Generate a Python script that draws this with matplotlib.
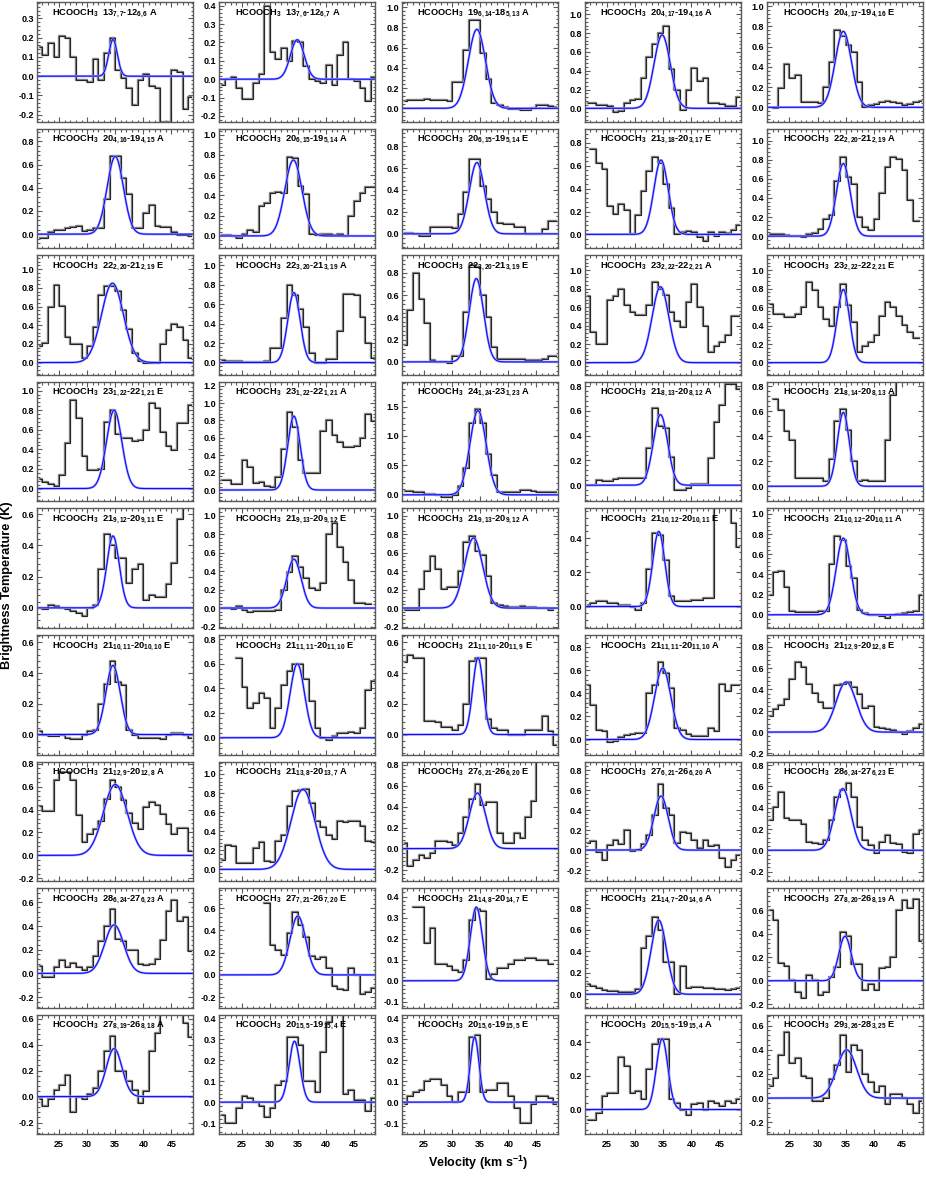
import numpy as np
import matplotlib
matplotlib.use("Agg")
import matplotlib.pyplot as plt
from matplotlib.ticker import MultipleLocator, FormatStrFormatter

nan = np.nan

# channel centre velocities (km/s)
vel = [21.5, 22.5, 23.5, 24.5, 25.5, 26.5, 27.5, 28.5, 29.5, 30.5, 31.5, 32.5, 33.5, 34.5,
       35.5, 36.5, 37.5, 38.5, 39.5, 40.5, 41.5, 42.5, 43.5, 44.5, 45.5, 46.5, 47.5, 48.5]

# observed spectra (K), one list per panel, row by row
spec01 = [0.15,0.11,0.17,0.10,0.21,0.20,0.10,-0.02,-0.02,-0.03,0.09,-0.02,0.12,0.20,0.03,-0.01,-0.06,-0.15,-0.02,0.01,-0.05,-0.06,-0.24,-0.24,0.03,0.02,-0.17,-0.11]
spec02 = [-0.03,0.00,0.01,-0.05,-0.11,-0.11,-0.02,0.03,0.40,0.15,0.11,0.17,0.10,0.21,0.20,0.07,0.00,-0.01,-0.02,0.08,-0.03,0.13,0.20,0.00,-0.01,-0.05,-0.12,0.01]
spec03 = [0.07,0.08,0.08,0.08,0.09,0.08,0.08,0.08,0.07,0.26,0.26,0.58,0.87,0.87,0.55,0.29,0.05,0.03,0.01,-0.01,-0.01,-0.02,-0.02,0.00,0.03,0.03,0.02,0.01]
spec04 = [0.06,0.06,0.04,0.04,0.03,-0.04,-0.03,0.06,0.09,0.10,0.32,0.55,0.68,0.80,0.87,0.42,0.20,-0.02,0.19,0.43,0.29,0.32,0.06,0.06,0.05,0.03,0.03,0.12]
spec05 = [nan,-0.01,0.19,0.43,0.29,0.32,0.05,0.05,0.05,0.04,0.20,0.45,0.76,0.70,0.62,0.55,0.25,0.00,0.02,0.03,0.05,0.06,0.05,0.04,0.02,0.03,0.05,0.06]
spec06 = [-0.03,-0.03,0.02,0.04,0.04,0.05,0.06,0.07,0.03,0.04,0.05,0.05,0.30,0.67,0.67,0.48,0.35,0.05,0.05,0.18,0.25,0.07,0.06,0.06,0.02,-0.01,-0.01,-0.02]
spec07 = [0.01,0.01,0.00,-0.02,0.02,0.06,0.04,0.30,0.33,0.42,0.43,0.42,0.78,0.77,0.49,0.41,0.02,0.01,0.02,0.02,0.01,0.02,0.00,0.20,0.35,0.42,0.48,0.48]
spec08 = [0.01,0.01,0.00,-0.02,-0.02,0.06,0.06,0.06,0.06,0.05,0.18,0.38,0.68,0.68,0.44,0.32,0.20,0.10,0.09,0.09,0.06,0.06,0.00,0.00,0.00,0.04,0.12,0.12]
spec09 = [nan,0.75,0.62,0.57,0.25,0.18,0.27,0.21,0.00,0.17,0.38,0.55,0.68,0.62,0.44,0.23,0.00,0.02,0.03,0.02,-0.02,-0.06,0.02,-0.01,0.02,0.01,0.04,0.08]
spec10 = [0.02,0.02,0.02,0.01,0.00,0.00,-0.01,0.02,0.03,0.08,0.18,0.22,0.58,0.83,0.62,0.55,0.20,0.10,0.06,0.18,0.45,0.72,0.83,0.81,0.69,0.38,0.16,nan]
spec11 = [0.18,0.21,0.59,0.83,0.61,0.27,0.20,0.20,0.05,0.18,0.38,0.72,0.82,0.82,0.77,0.56,0.36,0.10,0.02,-0.01,0.00,0.00,0.20,0.35,0.41,0.38,0.24,0.05]
spec12 = [0.03,0.02,0.02,0.02,0.01,0.01,0.01,0.01,0.02,0.15,0.15,0.46,0.80,0.70,0.55,0.37,0.10,0.00,0.00,0.04,0.04,0.32,0.71,0.71,0.70,0.47,0.20,0.05]
spec13 = [0.15,0.47,0.80,0.57,0.35,0.02,0.00,0.00,-0.01,0.05,0.05,0.45,0.87,0.85,0.60,0.40,0.13,0.03,0.03,0.03,0.03,0.03,0.02,0.02,0.02,0.03,0.05,0.05]
spec14 = [0.72,0.33,0.20,0.20,0.68,0.72,0.80,0.62,0.55,0.51,0.51,0.62,0.87,0.80,0.73,0.55,0.45,0.38,0.65,0.85,0.60,0.40,0.12,0.18,0.22,0.30,0.50,0.50]
spec15 = [0.63,0.53,0.53,0.49,0.49,0.52,0.60,0.87,0.78,0.60,0.47,0.40,0.60,0.85,0.62,0.44,0.12,0.18,0.22,0.30,0.50,0.66,0.60,0.50,0.41,0.33,0.27,nan]
spec16 = [0.10,0.07,0.05,0.03,0.14,0.47,0.90,0.72,0.33,0.19,0.19,0.20,0.68,0.80,0.56,0.52,0.52,0.49,0.50,0.60,0.87,0.82,0.58,0.43,0.39,0.67,0.67,0.85]
spec17 = [0.12,0.11,0.07,0.07,0.35,0.27,0.08,0.09,0.05,0.03,0.15,0.47,0.90,0.72,0.35,0.19,0.19,0.20,0.68,0.81,0.63,0.55,0.49,0.49,0.51,0.60,0.87,0.79]
spec18 = [0.07,0.07,0.05,0.05,0.01,0.01,-0.01,-0.03,-0.03,0.00,0.15,0.45,1.22,1.45,1.22,0.70,0.33,0.05,0.05,0.04,0.05,0.08,0.08,0.06,0.05,0.05,0.05,0.05]
spec19 = [0.00,0.00,0.04,0.03,0.03,0.05,0.06,0.06,0.06,0.06,0.06,0.30,0.62,0.48,0.46,0.23,-0.04,-0.04,-0.02,0.01,0.01,0.01,0.22,0.51,0.65,0.82,0.82,0.78]
spec20 = [nan,0.70,0.61,0.44,0.37,0.07,0.07,0.07,0.07,0.07,0.04,0.22,0.52,0.62,0.45,0.20,0.04,0.05,0.04,0.04,0.04,0.37,0.73,0.90,0.90,0.90,0.90,0.90]
spec21 = [0.00,-0.01,0.02,0.01,0.00,-0.01,-0.02,-0.03,-0.05,0.00,0.02,0.25,0.47,0.40,0.32,0.32,0.16,0.25,0.28,0.05,0.08,0.07,0.07,0.15,0.29,0.57,0.65,0.70]
spec22 = [0.00,0.00,-0.01,0.02,-0.02,-0.04,-0.03,-0.03,-0.03,-0.03,-0.02,0.20,0.39,0.56,0.45,0.33,0.22,0.20,0.27,0.80,0.92,0.66,0.50,0.30,0.05,0.05,0.04,nan]
spec23 = [-0.02,-0.02,-0.02,0.21,0.40,0.56,0.42,0.21,0.23,0.23,0.40,0.72,0.78,0.62,0.58,0.35,0.05,0.03,0.02,0.01,0.01,0.02,0.01,0.01,0.00,0.00,-0.02,nan]
spec24 = [0.01,0.02,0.03,0.03,0.02,0.02,0.01,0.01,0.00,-0.02,0.02,0.22,0.43,0.42,0.27,0.06,0.03,0.03,0.03,0.04,0.04,0.05,0.05,0.70,0.70,0.70,0.49,0.35]
spec25 = [0.20,0.42,0.43,0.28,0.04,0.03,0.03,0.03,0.03,0.04,0.04,0.50,0.78,0.74,0.48,0.36,0.05,0.02,0.00,0.00,-0.01,-0.03,0.00,0.01,0.02,0.03,0.04,0.20]
spec26 = [0.02,0.00,-0.01,-0.01,0.00,-0.02,-0.03,-0.03,0.00,0.02,0.03,0.20,0.33,0.48,0.34,0.32,0.03,0.00,-0.02,-0.02,-0.02,-0.02,-0.03,0.00,0.01,0.01,0.00,-0.02]
spec27 = [nan,nan,nan,0.65,0.41,0.24,0.28,0.36,0.32,0.08,0.24,0.43,0.54,0.60,0.60,0.48,0.30,0.08,0.00,-0.02,0.01,0.04,0.04,0.05,0.04,0.08,0.39,0.46]
spec28 = [0.47,0.52,0.50,0.50,0.09,0.09,0.08,0.05,0.05,0.03,0.06,0.20,0.48,0.50,0.50,0.10,0.04,0.03,0.03,0.00,0.00,0.00,0.03,0.03,0.03,0.12,0.02,-0.07]
spec29 = [0.47,0.30,0.08,0.07,-0.02,-0.01,0.02,0.04,0.05,0.06,0.06,0.40,0.47,0.67,0.58,0.45,0.10,0.08,0.05,0.03,0.03,0.03,0.10,0.07,0.48,0.42,0.47,0.47]
spec30 = [0.15,0.22,0.25,0.31,0.50,0.66,0.61,0.45,0.37,0.28,0.23,0.23,0.44,0.45,0.47,0.42,0.36,0.23,0.24,0.05,0.04,0.03,0.02,0.00,-0.02,0.01,0.04,0.08]
spec31 = [0.43,0.39,0.39,0.66,0.73,0.73,0.66,0.35,0.12,0.19,0.23,0.30,0.49,0.66,0.60,0.48,0.37,0.28,0.23,0.42,0.47,0.44,0.36,0.27,0.19,0.24,0.24,0.04]
spec32 = [0.10,0.26,0.24,0.07,0.07,0.07,0.22,0.29,0.09,0.08,0.30,0.36,0.66,0.82,0.83,0.84,0.70,0.51,0.44,0.36,0.32,0.51,0.50,0.51,0.51,0.45,0.30,0.29]
spec33 = [0.05,-0.17,-0.11,-0.06,-0.09,-0.04,0.07,0.07,0.06,0.03,0.15,0.30,0.47,0.62,0.42,0.44,0.44,0.15,0.05,0.05,0.15,0.10,0.30,0.45,1.00,1.00,1.00,1.00]
spec34 = [0.07,0.09,-0.02,-0.10,0.05,0.10,0.06,0.20,-0.01,0.00,0.06,0.15,0.35,0.66,0.42,0.35,0.07,0.18,0.17,0.10,0.02,0.10,0.04,0.05,-0.08,-0.17,-0.10,-0.05]
spec35 = [0.28,0.41,0.55,0.30,0.28,0.28,0.25,0.08,0.07,0.06,0.10,0.28,0.50,0.57,0.63,0.50,0.22,0.10,0.05,-0.03,0.08,0.14,0.07,0.06,-0.02,-0.03,0.15,0.19]
spec36 = [0.06,-0.03,-0.03,0.05,0.11,0.05,0.09,0.05,0.03,0.05,0.15,0.27,0.40,0.54,0.29,0.27,0.20,0.20,0.08,0.07,0.08,0.12,0.28,0.53,0.62,0.44,0.48,0.19]
spec37 = [nan,nan,nan,nan,nan,nan,nan,nan,0.65,0.27,0.22,0.18,0.38,0.57,0.45,0.34,0.17,0.14,0.16,0.06,-0.10,-0.13,-0.14,0.06,0.00,-0.17,-0.15,-0.12]
spec38 = [nan,nan,0.35,0.35,0.18,0.25,0.08,0.08,0.07,0.05,0.04,0.10,0.29,0.34,0.33,0.01,0.03,0.06,0.06,0.08,0.10,0.10,0.11,0.11,0.10,0.10,0.08,nan]
spec39 = [0.10,0.08,0.06,0.04,0.03,0.03,0.02,0.02,0.02,0.05,0.43,0.54,0.72,0.60,0.30,0.30,0.00,0.26,0.06,0.07,0.07,0.06,0.06,0.05,0.05,0.04,0.05,0.06]
spec40 = [0.60,0.52,0.15,0.13,0.01,-0.10,-0.15,0.05,0.01,-0.12,-0.10,0.03,0.12,0.42,0.38,0.14,0.14,-0.08,-0.03,-0.08,0.11,0.12,0.20,0.60,0.69,0.62,0.70,0.34]
spec41 = [-0.02,-0.07,-0.02,0.05,0.09,0.17,-0.12,0.00,-0.02,0.02,0.07,0.20,0.35,0.47,0.20,0.20,0.12,0.05,-0.05,0.04,0.35,0.49,0.80,0.80,0.80,0.80,0.57,0.46]
spec42 = [-0.06,-0.10,-0.10,-0.03,0.03,0.02,0.00,-0.02,-0.07,-0.03,0.08,0.10,0.31,0.31,0.27,0.10,0.10,0.05,0.24,0.38,0.50,0.50,0.04,0.06,0.01,0.01,-0.04,0.02]
spec43 = [-0.01,0.03,0.05,0.06,0.10,0.11,0.11,0.08,0.03,0.00,0.05,0.05,0.31,0.32,0.05,0.06,0.06,0.09,0.09,0.03,-0.03,-0.10,-0.10,-0.01,0.03,0.03,0.02,-0.01]
spec44 = [-0.06,-0.06,-0.02,0.08,0.10,0.10,0.31,0.26,0.10,0.11,0.06,0.24,0.39,0.42,0.42,0.06,0.04,0.00,-0.03,0.03,0.04,0.00,0.05,0.04,0.02,0.05,0.04,0.06]
spec45 = [0.10,0.17,0.36,0.55,0.29,0.33,0.18,0.17,-0.02,-0.02,0.00,0.16,0.27,0.52,0.22,0.44,0.40,0.20,0.13,0.05,0.10,-0.05,0.03,0.03,0.00,-0.05,-0.12,-0.02]

spectra = [spec01, spec02, spec03, spec04, spec05, spec06, spec07, spec08, spec09, spec10,
           spec11, spec12, spec13, spec14, spec15, spec16, spec17, spec18, spec19, spec20,
           spec21, spec22, spec23, spec24, spec25, spec26, spec27, spec28, spec29, spec30,
           spec31, spec32, spec33, spec34, spec35, spec36, spec37, spec38, spec39, spec40,
           spec41, spec42, spec43, spec44, spec45]

transitions = [
    "13$_{7,7}$-12$_{6,6}$ A", "13$_{7,6}$-12$_{6,7}$ A", "19$_{6,14}$-18$_{5,13}$ A", "20$_{4,17}$-19$_{4,16}$ A", "20$_{4,17}$-19$_{4,16}$ E",
    "20$_{4,16}$-19$_{4,15}$ A", "20$_{6,15}$-19$_{5,14}$ A", "20$_{6,15}$-19$_{5,14}$ E", "21$_{3,18}$-20$_{3,17}$ E", "22$_{2,20}$-21$_{2,19}$ A",
    "22$_{2,20}$-21$_{2,19}$ E", "22$_{3,20}$-21$_{3,19}$ A", "22$_{3,20}$-21$_{3,19}$ E", "23$_{2,22}$-22$_{2,21}$ A", "23$_{2,22}$-22$_{2,21}$ E",
    "23$_{1,22}$-22$_{1,21}$ E", "23$_{1,22}$-22$_{1,21}$ A", "24$_{1,24}$-23$_{1,23}$ A", "21$_{8,13}$-20$_{8,12}$ A", "21$_{8,14}$-20$_{8,13}$ A",
    "21$_{9,12}$-20$_{9,11}$ E", "21$_{9,13}$-20$_{9,12}$ E", "21$_{9,13}$-20$_{9,12}$ A", "21$_{10,12}$-20$_{10,11}$ E", "21$_{10,12}$-20$_{10,11}$ A",
    "21$_{10,11}$-20$_{10,10}$ E", "21$_{11,11}$-20$_{11,10}$ E", "21$_{11,10}$-20$_{11,9}$ E", "21$_{11,11}$-20$_{11,10}$ A", "21$_{12,9}$-20$_{12,8}$ E",
    "21$_{12,9}$-20$_{12,8}$ A", "21$_{13,8}$-20$_{13,7}$ A", "27$_{6,21}$-26$_{6,20}$ E", "27$_{6,21}$-26$_{6,20}$ A", "28$_{6,24}$-27$_{6,23}$ E",
    "28$_{6,24}$-27$_{6,23}$ A", "27$_{7,21}$-26$_{7,20}$ E", "21$_{14,8}$-20$_{14,7}$ E", "21$_{14,7}$-20$_{14,6}$ A", "27$_{8,20}$-26$_{8,19}$ A",
    "27$_{8,19}$-26$_{8,18}$ A", "20$_{15,5}$-19$_{15,4}$ E", "20$_{15,6}$-19$_{15,5}$ E", "20$_{15,5}$-19$_{15,4}$ A", "29$_{3,26}$-28$_{3,25}$ E",
]

# Gaussian fit parameters: peak (K), centre velocity (km/s), FWHM (km/s)
fit_amp = [0.19, 0.215, 0.78, 0.78, 0.75, 0.67, 0.75, 0.65, 0.65, 0.76,
           0.85, 0.72, 0.75, 0.82, 0.79, 0.80, 0.85, 1.43, 0.57, 0.59,
           0.46, 0.53, 0.76, 0.44, 0.76, 0.45, 0.60, 0.50, 0.62, 0.47,
           0.62, 0.84, 0.53, 0.54, 0.58, 0.41, 0.53, 0.35, 0.69, 0.38,
           0.37, 0.29, 0.31, 0.42, 0.40]
fit_vc = [34.6, 34.9, 34.4, 34.8, 34.6, 35.0, 34.2, 34.4, 34.6, 34.6,
          34.5, 34.3, 34.3, 34.5, 34.6, 34.8, 34.3, 34.6, 34.5, 34.6,
          34.6, 34.3, 33.8, 34.2, 34.6, 34.6, 34.9, 34.6, 34.9, 35.1,
          35.0, 35.9, 34.5, 34.6, 34.5, 34.8, 35.0, 34.3, 34.2, 34.9,
          34.8, 34.4, 34.0, 34.8, 35.2]
fit_fwhm = [1.8, 2.9, 3.6, 3.4, 3.4, 3.4, 3.6, 3.2, 3.0, 2.9,
            4.6, 2.6, 3.0, 3.5, 2.6, 3.2, 2.6, 3.4, 3.0, 2.5,
            2.6, 3.0, 3.8, 2.5, 3.0, 3.0, 3.0, 2.2, 3.4, 4.2,
            5.0, 5.0, 3.4, 3.0, 3.4, 4.0, 3.3, 2.5, 3.2, 2.6,
            3.3, 2.3, 1.8, 2.4, 4.2]

# y-axis ranges and tick spacing per panel
y_lo = [-0.235, -0.23, -0.13, -0.14, -0.14, -0.12, -0.12, -0.13, -0.12, -0.125,
        -0.13, -0.125, -0.115, -0.13, -0.13, -0.13, -0.13, -0.11, -0.13, -0.12,
        -0.128, -0.215, -0.215, -0.125, -0.13, -0.13, -0.136, -0.13, -0.13, -0.21,
        -0.225, -0.123, -0.31, -0.31, -0.29, -0.29, -0.295, -0.128, -0.125, -0.23,
        -0.29, -0.153, -0.153, -0.147, -0.30]
y_hi = [0.385, 0.42, 1.05, 1.13, 1.04, 0.91, 1.06, 0.96, 0.925, 1.125,
        1.15, 1.105, 0.96, 1.16, 1.16, 1.09, 1.245, 1.92, 0.835, 0.835,
        0.636, 1.08, 1.08, 0.575, 1.055, 0.648, 0.833, 0.648, 0.907, 0.91,
        0.82, 1.13, 0.83, 0.884, 0.834, 0.72, 0.78, 0.44, 0.987, 0.79,
        0.63, 0.416, 0.416, 0.562, 0.69]
y_step = [0.1, 0.1, 0.2, 0.2, 0.2, 0.2, 0.2, 0.2, 0.2, 0.2,
          0.2, 0.2, 0.2, 0.2, 0.2, 0.2, 0.2, 0.5, 0.2, 0.2,
          0.2, 0.2, 0.2, 0.2, 0.2, 0.2, 0.2, 0.2, 0.2, 0.2,
          0.2, 0.2, 0.2, 0.2, 0.2, 0.2, 0.2, 0.1, 0.2, 0.2,
          0.2, 0.1, 0.1, 0.2, 0.2]

plt.rcParams.update({
    "font.family": ["Liberation Sans", "DejaVu Sans"],
    "font.weight": "bold",
    "axes.unicode_minus": False,
    "mathtext.fontset": "custom",
    "mathtext.rm": "Liberation Sans:bold",
    "mathtext.it": "Liberation Sans:bold",
    "mathtext.bf": "Liberation Sans:bold",
    "mathtext.default": "rm",
})

W, H = 926.0, 1180.0
fig = plt.figure(figsize=(W / 100, H / 100), dpi=100)
col_left = [36.7, 219.3, 401.7, 584.7, 767.0]
pw, ph = 156.0, 119.5
frame = "#5a5a5a"

vfine = np.linspace(21.0, 49.0, 600)
for i in range(45):
    r, c = divmod(i, 5)
    top = 2.0 + 126.6 * r
    ax = fig.add_axes([col_left[c] / W, 1 - (top + ph) / H, pw / W, ph / H])
    y = np.array(spectra[i], dtype=float)
    ax.step(vel, y, where="mid", color="#7c7c7c", lw=1.7)
    ax.step(vel, y, where="mid", color="#161616", lw=0.6)
    g = fit_amp[i] * np.exp(-4 * np.log(2) * (vfine - fit_vc[i]) ** 2 / fit_fwhm[i] ** 2)
    ax.plot(vfine, g, color="#a6a6ff", lw=1.7)
    ax.plot(vfine, g, color="#0c0cff", lw=0.8)
    ax.set_xlim(21.0, 48.8)
    ax.set_ylim(y_lo[i], y_hi[i])
    ax.xaxis.set_major_locator(MultipleLocator(5))
    ax.xaxis.set_minor_locator(MultipleLocator(1))
    ax.yaxis.set_major_locator(MultipleLocator(y_step[i]))
    ax.yaxis.set_minor_locator(MultipleLocator(y_step[i] / 5))
    ax.yaxis.set_major_formatter(FormatStrFormatter("%.1f"))
    ax.tick_params(which="both", direction="in", top=True, right=True, color=frame,
                   width=0.8, labelsize=6.5, pad=2)
    ax.tick_params(which="major", length=3.5)
    ax.tick_params(which="minor", length=1.8)
    ax.tick_params(axis="x", labelbottom=(r == 8), pad=4)
    for s in ax.spines.values():
        s.set_color(frame)
        s.set_linewidth(1.0)
    ax.text(0.10, 0.905, "HCOOCH$_3$  " + transitions[i], transform=ax.transAxes,
            fontsize=6.7, fontweight="bold", va="center", ha="left")

fig.text(7.5 / W, 1 - 585 / H, "Brightness Temperature (K)", rotation=90, ha="center", va="center",
         fontsize=9.2, fontweight="bold")
fig.text(478 / W, 1 - 1163 / H, "Velocity (km s$^{-1}$)", ha="center", va="center",
         fontsize=9, fontweight="bold")

fig.savefig("out.png", dpi=100)
